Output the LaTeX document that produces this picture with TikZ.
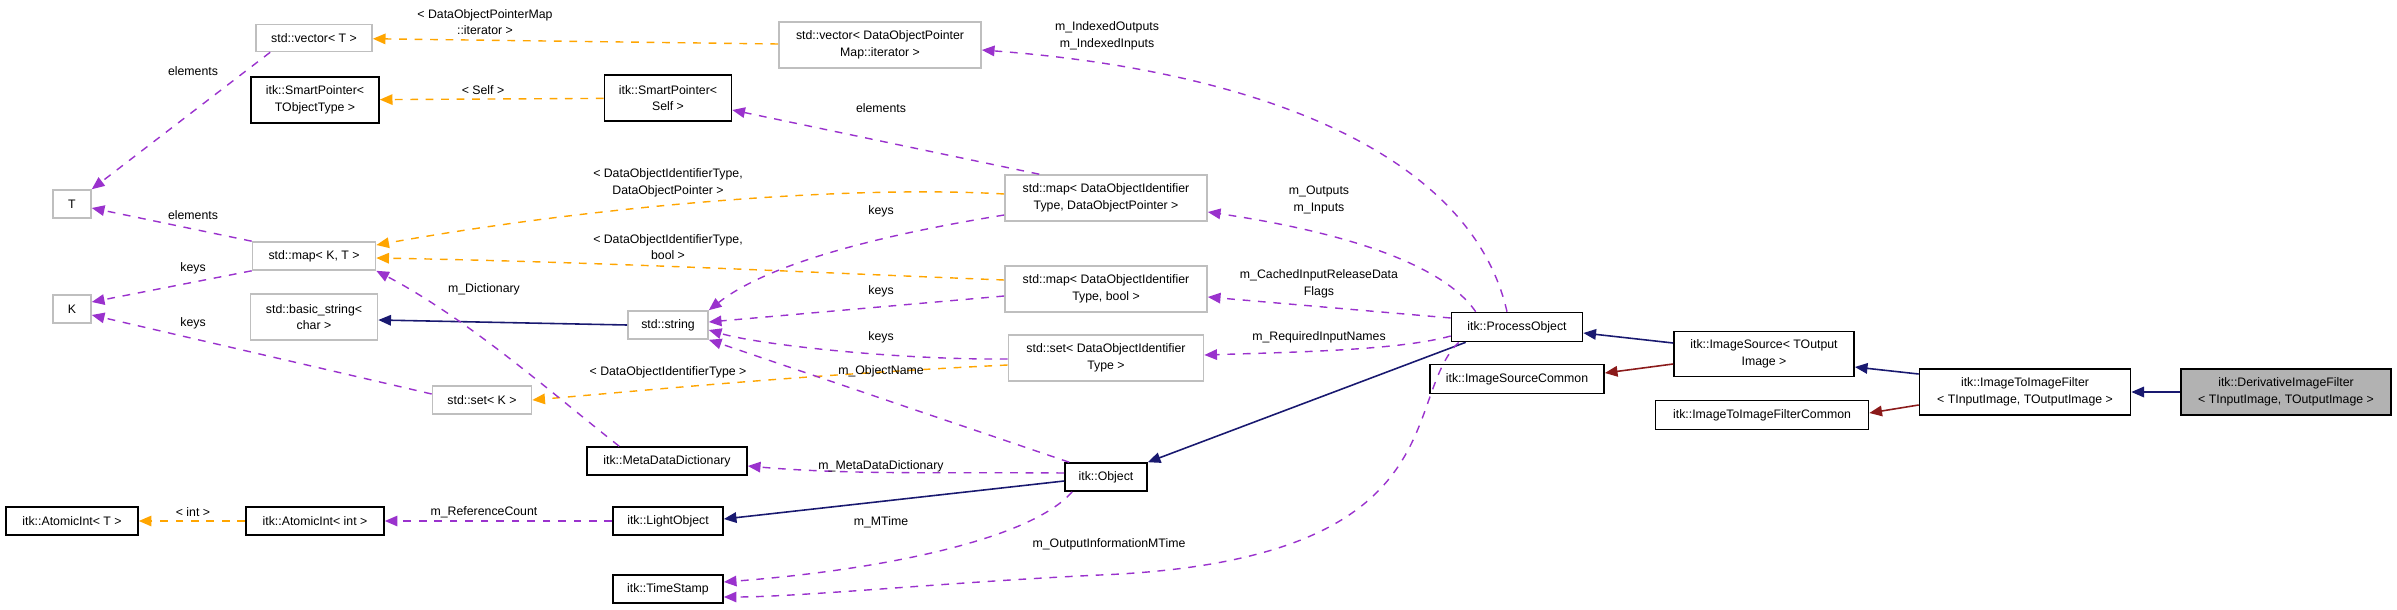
\documentclass[tikz,border=0pt]{standalone}
\usepackage{fontspec}
\setmainfont{Liberation Sans}
\usetikzlibrary{arrows.meta}
\definecolor{org}{HTML}{FFA500}
\definecolor{pur}{HTML}{9A32CD}
\definecolor{nav}{HTML}{191970}
\definecolor{drd}{HTML}{8B1A1A}
\definecolor{gbd}{HTML}{BFBFBF}
\begin{document}
\begin{tikzpicture}[x=0.01cm,y=-0.01cm,
  every node/.style={font=\fontsize{3.5}{4.7}\selectfont,inner sep=0pt,align=center},
  box/.style={draw=black,line width=0.45pt,fill=white},
  gbox/.style={draw=gbd,line width=0.45pt,fill=white},
  tip/.style={-{Triangle[length=3.6pt,width=3pt]}},
  pe/.style={tip,draw=pur,dash pattern=on 2.2pt off 2.2pt,line width=0.4pt},
  oe/.style={tip,draw=org,dash pattern=on 2.2pt off 2.2pt,line width=0.4pt},
  ne/.style={tip,draw=nav,line width=0.45pt},
  re/.style={tip,draw=drd,line width=0.45pt}]
\useasboundingbox (0,0) rectangle (2397,609);
% nodes
\node[gbox,minimum width=1.16cm,minimum height=0.27cm] (vecT) at (314,38) {std::vector< T >};
\node[box,minimum width=1.28cm,minimum height=0.46cm] (spT) at (315,100) {itk::SmartPointer<\\TObjectType >};
\node[box,minimum width=1.27cm,minimum height=0.46cm] (spS) at (668,98) {itk::SmartPointer<\\Self >};
\node[gbox,minimum width=2.02cm,minimum height=0.46cm] (vecM) at (880,45) {std::vector< DataObjectPointer\\Map::iterator >};
\node[gbox,minimum width=0.38cm,minimum height=0.28cm] (T) at (72,204) {T};
\node[gbox,minimum width=1.23cm,minimum height=0.28cm] (mapKT) at (314,256) {std::map< K, T >};
\node[gbox,minimum width=0.38cm,minimum height=0.28cm] (K) at (72,309) {K};
\node[gbox,minimum width=1.27cm,minimum height=0.46cm] (bstr) at (314,317) {std::basic\_string<\\char >};
\node[gbox,minimum width=0.80cm,minimum height=0.28cm] (str) at (668,325) {std::string};
\node[gbox,minimum width=0.99cm,minimum height=0.28cm] (setK) at (482,400) {std::set< K >};
\node[box,minimum width=1.60cm,minimum height=0.28cm] (mdd) at (667,461) {itk::MetaDataDictionary};
\node[box,minimum width=1.32cm,minimum height=0.28cm] (aiT) at (72,521) {itk::AtomicInt< T >};
\node[box,minimum width=1.38cm,minimum height=0.28cm] (aiI) at (315,521) {itk::AtomicInt< int >};
\node[box,minimum width=1.10cm,minimum height=0.28cm] (lo) at (668,521) {itk::LightObject};
\node[box,minimum width=1.10cm,minimum height=0.28cm] (ts) at (668,589) {itk::TimeStamp};
\node[gbox,minimum width=2.02cm,minimum height=0.46cm] (mapP) at (1106,198) {std::map< DataObjectIdentifier\\Type, DataObjectPointer >};
\node[gbox,minimum width=2.02cm,minimum height=0.46cm] (mapB) at (1106,289) {std::map< DataObjectIdentifier\\Type, bool >};
\node[gbox,minimum width=1.95cm,minimum height=0.46cm] (setD) at (1106,358) {std::set< DataObjectIdentifier\\Type >};
\node[box,minimum width=1.31cm,minimum height=0.29cm] (po) at (1517,327) {itk::ProcessObject};
\node[box,minimum width=1.74cm,minimum height=0.29cm] (isc) at (1517,379) {itk::ImageSourceCommon};
\node[box,minimum width=0.82cm,minimum height=0.28cm] (obj) at (1106,477) {itk::Object};
\node[box,minimum width=1.80cm,minimum height=0.45cm] (is) at (1764,354) {itk::ImageSource< TOutput\\Image >};
\node[box,minimum width=2.13cm,minimum height=0.29cm] (itifc) at (1762,415) {itk::ImageToImageFilterCommon};
\node[box,minimum width=2.11cm,minimum height=0.46cm] (itif) at (2025,392) {itk::ImageToImageFilter\\< TInputImage, TOutputImage >};
\node[box,fill=gray!60,minimum width=2.10cm,minimum height=0.46cm] (der) at (2286,392) {itk::DerivativeImageFilter\\< TInputImage, TOutputImage >};
% edges
\draw[oe] (vecM.west |- 0,44) -- (vecT);
\draw[oe] (spS) -- (spT);
\draw[pe] ([xshift=0.35cm]mapP.north west) -- (spS.east |- 0,110);
\draw[oe] (mapP.west |- 0,194) .. controls (850,185) and (600,205) .. (mapKT.east |- 0,245);
\draw[pe] (mapP.west |- 0,215) .. controls (850,240) and (760,270) .. (str.north east);
\draw[oe] (mapB.west |- 0,280) .. controls (800,272) and (600,262) .. (mapKT.east |- 0,258);
\draw[pe] (mapB.west |- 0,296) -- (str.east |- 0,322);
\draw[oe] (setD.west |- 0,365) .. controls (800,375) and (650,390) .. (setK.east |- 0,400);
\draw[pe] (setD.west |- 0,359) .. controls (900,360) and (760,345) .. (str.east |- 0,330);
\draw[pe] ([xshift=0.15cm]vecT.south west) -- (T.north east);
\draw[pe] (mapKT.north west) -- (T.east |- 0,208);
\draw[pe] (mapKT.south west) -- (K.east |- 0,302);
\draw[pe] (setK.west |- 0,394) -- (K.east |- 0,315);
\draw[ne] (str.west) -- (bstr.east |- 0,320);
\draw[pe] ([xshift=0.33cm]mdd.north west) .. controls (560,400) and (470,320) .. (mapKT.south east);
\draw[pe] ([xshift=0.05cm]obj.north west) -- (str.south east);
\draw[pe] (obj.west |- 0,473) .. controls (950,472) and (850,475) .. (mdd.east |- 0,466);
\draw[ne] (obj.west |- 0,481) -- (lo.east |- 0,519);
\draw[pe] ([xshift=0.08cm]obj.south west) .. controls (1030,540) and (880,570) .. (ts.east |- 0,582);
\draw[pe] (lo) -- (aiI);
\draw[oe] (aiI) -- (aiT);
\draw[pe] ([xshift=-0.1cm]po.north) .. controls (1470,150) and (1250,70) .. (vecM.east |- 0,50);
\draw[pe] ([xshift=0.25cm]po.north west) .. controls (1440,260) and (1330,230) .. (mapP.east |- 0,212);
\draw[pe] (po.west |- 0,318) -- (mapB.east |- 0,297);
\draw[pe] (po.west |- 0,336) .. controls (1400,350) and (1300,352) .. (setD.east |- 0,355);
\draw[ne] ([xshift=0.15cm]po.south west) -- (obj.north east);
\draw[pe] ([xshift=0.08cm]po.south west) .. controls (1400,400) and (1460,560) .. (1100,575) .. controls (950,582) and (800,597) .. (ts.east |- 0,597);
\draw[ne] (is.west |- 0,343) -- (po.east |- 0,333);
\draw[re] (is.west |- 0,364) -- (isc.east |- 0,373);
\draw[ne] (itif.west |- 0,374) -- (is.east |- 0,367);
\draw[re] (itif.west |- 0,405) -- (itifc.east |- 0,413);
\draw[ne] (der) -- (itif);
% labels
\node (l1) at (485,22) {< DataObjectPointerMap\\::iterator >};
\node (l2) at (193,71) {elements};
\node (l3) at (483,90) {< Self >};
\node (l4) at (881,108) {elements};
\node (l5) at (668,183) {< DataObjectIdentifierType,\\DataObjectPointer >};
\node (l6) at (881,211) {keys};
\node (l7) at (193,215) {elements};
\node (l8) at (668,247) {< DataObjectIdentifierType,\\bool >};
\node (l9) at (193,268) {keys};
\node (l10) at (484,289) {m\_Dictionary};
\node (l11) at (881,291) {keys};
\node (l12) at (193,323) {keys};
\node (l13) at (881,337) {keys};
\node (l14) at (668,372) {< DataObjectIdentifierType >};
\node (l15) at (881,371) {m\_ObjectName};
\node (l16) at (881,466) {m\_MetaDataDictionary};
\node (l17) at (193,512) {< int >};
\node (l18) at (484,512) {m\_ReferenceCount};
\node (l19) at (881,522) {m\_MTime};
\node (l20) at (1107,36) {m\_IndexedOutputs\\m\_IndexedInputs};
\node (l21) at (1319,200) {m\_Outputs\\m\_Inputs};
\node (l22) at (1319,284) {m\_CachedInputReleaseData\\Flags};
\node (l23) at (1319,337) {m\_RequiredInputNames};
\node (l24) at (1109,544) {m\_OutputInformationMTime};
\end{tikzpicture}
\end{document}
